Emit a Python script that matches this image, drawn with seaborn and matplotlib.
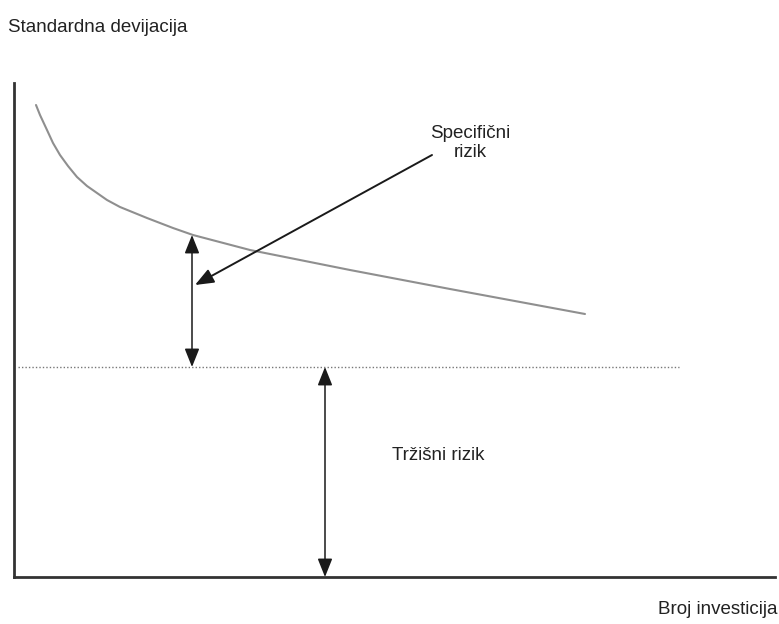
import matplotlib
matplotlib.use("Agg")
import matplotlib.pyplot as plt
import seaborn as sns
import pandas as pd

sns.set_theme(style="white")
plt.rcParams["font.family"] = ["Liberation Sans", "DejaVu Sans"]

# Total risk curve (standard deviation vs. number of investments)
broj = [22, 26, 33, 39, 46, 54, 63, 73, 83, 93, 106, 133, 159, 179, 236, 336, 436, 571]
devijacija = [472, 462, 447, 434, 422, 411, 400, 391, 384, 377, 370, 359, 349, 342,
              327, 307, 288, 263]

# Systematic (market) risk level and arrow positions
trzisni_nivo = 210
dotted_start = 4
dotted_end = 665
spec_x = 178
spec_top = 342
trz_x = 311
pointer_start = (418, 422)
pointer_end = (181, 292)

W, H = 779, 624
fig = plt.figure(figsize=(W / 100, H / 100), dpi=100)
ax = fig.add_axes([14 / W, 47 / H, 761 / W, 494 / H])
ax.set_xlim(0, 761)
ax.set_ylim(0, 494)

df = pd.DataFrame({"broj": broj, "devijacija": devijacija})
sns.lineplot(data=df, x="broj", y="devijacija", ax=ax, color="#8f8f8f",
             linewidth=1.5, estimator=None, sort=True)

# Market risk level
ax.plot([dotted_start, dotted_end], [trzisni_nivo, trzisni_nivo],
        linestyle=(0, (1, 1.5)), color="#777777", linewidth=1.0)

arrow_kw = dict(arrowstyle="<|-|>,head_length=0.75,head_width=0.3",
                color="#1a1a1a", lw=1.1, mutation_scale=15,
                shrinkA=0, shrinkB=0)
ax.annotate("", xy=(spec_x, spec_top), xytext=(spec_x, trzisni_nivo), arrowprops=arrow_kw)
ax.annotate("", xy=(trz_x, trzisni_nivo), xytext=(trz_x, 0), arrowprops=arrow_kw)
ax.annotate("", xy=pointer_end, xytext=pointer_start,
            arrowprops=dict(arrowstyle="-|>,head_length=0.75,head_width=0.3",
                            color="#1a1a1a", lw=1.4,
                            mutation_scale=15, shrinkA=0, shrinkB=0))

ax.text(456, 434, "Specifični\nrizik", ha="center", va="center", fontsize=13.5,
        color="#222222", linespacing=1.1)
ax.text(424, 122, "Tržišni rizik", ha="center", va="center", fontsize=13.5,
        color="#222222")

fig.text(8 / W, 1 - 27 / H, "Standardna devijacija", ha="left", va="center",
         fontsize=13.5, color="#222222")
fig.text(778 / W, 1 - 610 / H, "Broj investicija", ha="right", va="center",
         fontsize=13.5, color="#222222")

ax.set_xticks([])
ax.set_yticks([])
ax.set_xlabel("")
ax.set_ylabel("")
for side in ["top", "right"]:
    ax.spines[side].set_visible(False)
for side in ["left", "bottom"]:
    ax.spines[side].set_color("#333333")
    ax.spines[side].set_linewidth(2)

fig.savefig("out.png", dpi=100, facecolor="white")
